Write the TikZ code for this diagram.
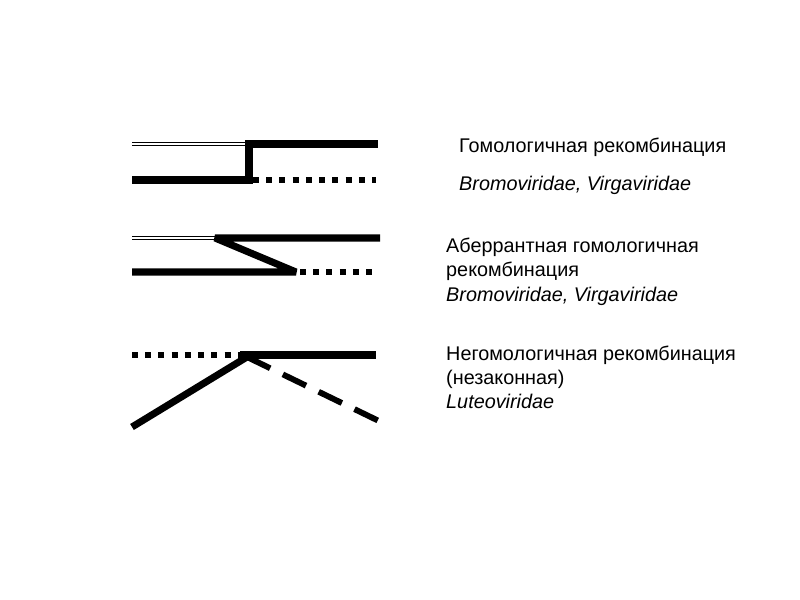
\documentclass[tikz,border=0pt]{standalone}
\usepackage{fontspec}
\setmainfont{Liberation Sans}
\usetikzlibrary{calc}
\usetikzlibrary{positioning}
\tikzset{>=latex}
\tikzset{strand/.style = {line width = 6pt, line cap = butt, line join = bevel},
  dotstrand/.style = {line width = 5.5pt, dash pattern = on 5pt off 6.3pt},
  dashstrand/.style = {line width = 5pt, dash pattern = on 22pt off 12pt},
  twin/.style = {line width = 0.9pt, double, double distance = 1.6pt},
  lbl/.style = {anchor = base west, inner sep = 0, font = \fontsize{16.9}{19}\selectfont}}

\begin{document}
\begin{tikzpicture}[x = 0.03cm, y = -0.03cm]
\useasboundingbox (0, 0) rectangle (800, 600);
% first scheme
\coordinate (a1) at (132, 144);
\coordinate (a2) at (249, 144);
\coordinate (a3) at (378, 144);
\coordinate (b1) at (132, 180);
\coordinate (b2) at (249, 180);
\coordinate (b3) at (376, 180);
\draw [twin] (a1) -- (a2);
\draw [strand, line join = miter] (b1) -- (b2) -- (a2) -- (a3);
\draw [dotstrand] ($(b2) + (4, 0)$) -- (b3);
% second scheme
\coordinate (c1) at (132, 238);
\coordinate (c2) at (215, 238);
\coordinate (c3) at (380, 238);
\coordinate (d1) at (132, 272);
\coordinate (d2) at (296, 272);
\coordinate (d3) at (376, 272);
\draw [twin] (c1) -- (c2);
\draw [strand] (c3) -- (c2) -- (d2) -- (d1);
\draw [dotstrand] ($(d2) + (4, 0)$) -- (d3);
% third scheme
\coordinate (e1) at (132, 355);
\coordinate (e2) at (240, 355);
\coordinate (e3) at (376, 355);
\coordinate (g) at (247, 357);
\coordinate (f1) at (132, 427);
\coordinate (f2) at (381, 422);
\draw [dotstrand] (e1) -- (e2);
\draw [strand] (e2) -- (e3);
\draw [strand] (f1) -- (g);
\draw [dashstrand] (g) -- (f2);
% labels
\node [lbl] (t1) at (459, 153) {Гомологичная рекомбинация};
\node [lbl] (t2) at (459, 191) {\itshape Bromoviridae, Virgaviridae};
\node [lbl] (t3) at (446, 253) {Аберрантная гомологичная};
\node [lbl] (t4) at (446, 277) {рекомбинация};
\node [lbl] (t5) at (446, 302) {\itshape Bromoviridae, Virgaviridae};
\node [lbl] (t6) at (446, 361) {Негомологичная рекомбинация};
\node [lbl] (t7) at (446, 385) {(незаконная)};
\node [lbl] (t8) at (446, 409) {\itshape Luteoviridae};
\end{tikzpicture}
\end{document}
